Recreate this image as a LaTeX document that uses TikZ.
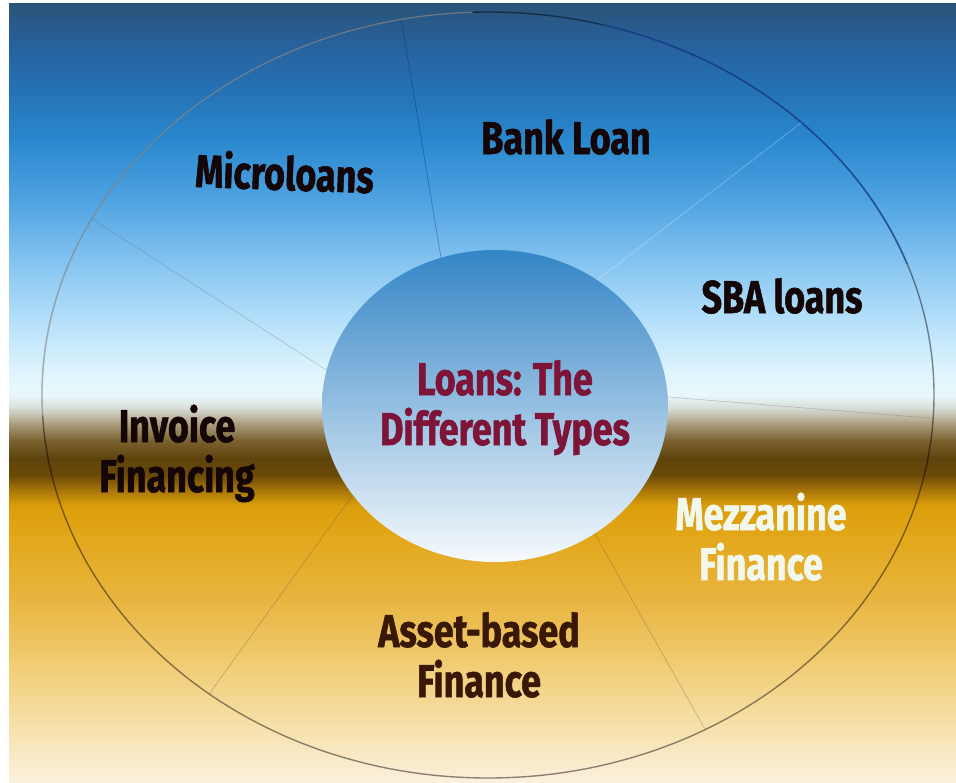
\documentclass[tikz,border=0pt]{standalone}
\usepackage{fontspec}
\newfontfamily\lab{Fira Sans}[FakeStretch=0.78, FakeBold=1.2]
\usetikzlibrary{shapes.geometric}
\definecolor{b00}{HTML}{2A5377}
\definecolor{b01}{HTML}{28609A}
\definecolor{b02}{HTML}{2472B5}
\definecolor{b03}{HTML}{2A88CE}
\definecolor{b04}{HTML}{4FA3E2}
\definecolor{b05}{HTML}{83C3F0}
\definecolor{b06}{HTML}{B5E0FA}
\definecolor{b07}{HTML}{DDF4FD}
\definecolor{b08}{HTML}{EAF8FC}
\definecolor{b09}{HTML}{D8DCD6}
\definecolor{b10}{HTML}{AFA486}
\definecolor{b11}{HTML}{7B6230}
\definecolor{b12}{HTML}{5E430C}
\definecolor{b13}{HTML}{6B4A06}
\definecolor{b14}{HTML}{A8760A}
\definecolor{b15}{HTML}{DA9E0A}
\definecolor{b16}{HTML}{E3A81C}
\definecolor{b17}{HTML}{E8B540}
\definecolor{b18}{HTML}{F0CB70}
\definecolor{b19}{HTML}{F6DFA6}
\definecolor{b20}{HTML}{FBF0DC}
\definecolor{innertop}{HTML}{3385C6}
\definecolor{innermid}{HTML}{86BAE4}
\definecolor{innerbot}{HTML}{F6FAFD}
\definecolor{labdark}{HTML}{140606}
\definecolor{labbrown}{HTML}{3A1808}
\definecolor{labcream}{HTML}{F2F8EC}
\definecolor{labcentre}{HTML}{7E1538}
\definecolor{rimblue}{HTML}{1A4AA8}
\tikzset{
  spoke/.style={line width=0.7pt, draw=#1, draw opacity=0.3},
  spoke/.default=black,
  lbl/.style={font=\lab\bfseries\fontsize{46}{50}\selectfont, text=#1, align=center, inner sep=0pt, anchor=base},
  lbl/.default=labdark,
}
\begin{document}
\begin{tikzpicture}[x=1pt, y=-1pt]
\useasboundingbox (0,0) rectangle (956,782);
\fill[white] (0,0) rectangle (956,782);
% background gradient bands
\foreach \ya/\ca/\yb/\cb in {3/b00/40/b01, 40/b01/90/b02, 90/b02/140/b03, 140/b03/200/b04,
  200/b04/260/b05, 260/b05/320/b06, 320/b06/370/b07, 370/b07/395/b08, 395/b08/408/b09,
  408/b09/422/b10, 422/b10/440/b11, 440/b11/458/b12, 458/b12/475/b13, 475/b13/490/b14,
  490/b14/505/b15, 505/b15/540/b16, 540/b16/600/b17, 600/b17/660/b18, 660/b18/720/b19,
  720/b19/782/b20}
  {\fill[top color=\ca, bottom color=\cb] (9,\ya) rectangle (956,\yb+0.6);}
% outer ring
\node[ellipse, draw=black, draw opacity=0.45, line width=1.4pt, minimum width=892pt,
  minimum height=766pt, inner sep=0pt, outer sep=0pt] (outer) at (488,395) {};
\draw[white, opacity=0.35, line width=1.4pt]
  ([shift={(92:446pt and 383pt)}]outer.center) arc[start angle=92, end angle=183, x radius=446pt, y radius=383pt];
\draw[rimblue, opacity=0.6, line width=1.6pt]
  ([shift={(75:446pt and 383pt)}]outer.center) arc[start angle=75, end angle=20, x radius=446pt, y radius=383pt];
% inner disc
\node[ellipse, minimum width=346pt, minimum height=312pt, inner sep=0pt, outer sep=0pt,
  top color=innertop, middle color=innermid, bottom color=innerbot] (inner) at (495,406) {};
% dividers
\draw[spoke=black!60] (inner.168.2) -- (outer.156.8);
\draw[spoke=blue!40!black] (inner.110.3) -- (outer.103.9);
\draw[spoke=white] (inner.51.1) -- (outer.41.5);
\draw[spoke=black!60] (inner.3.5) -- (outer.-3.2);
\draw[spoke=black!70] (inner.-52.9) -- (outer.-57.5);
\draw[spoke=black!70] (inner.212.7) -- (outer.227.7);
% labels (two-line labels are placed at the baseline of their last line)
\node[lbl, rotate=-2] (micro) at (284,190) {Microloans};
\node[lbl] (bank) at (566,154) {Bank Loan};
\node[lbl] (sba) at (782,313) {SBA loans};
\node[lbl=labcentre] (centre) at (505,445) {Loans: The\\Different Types};
\node[lbl] (invoice) at (177,492) {Invoice\\Financing};
\node[lbl=labcream] (mezz) at (761,580) {Mezzanine\\Finance};
\node[lbl=labbrown] (asset) at (479,697) {Asset-based\\Finance};
\end{tikzpicture}
\end{document}
